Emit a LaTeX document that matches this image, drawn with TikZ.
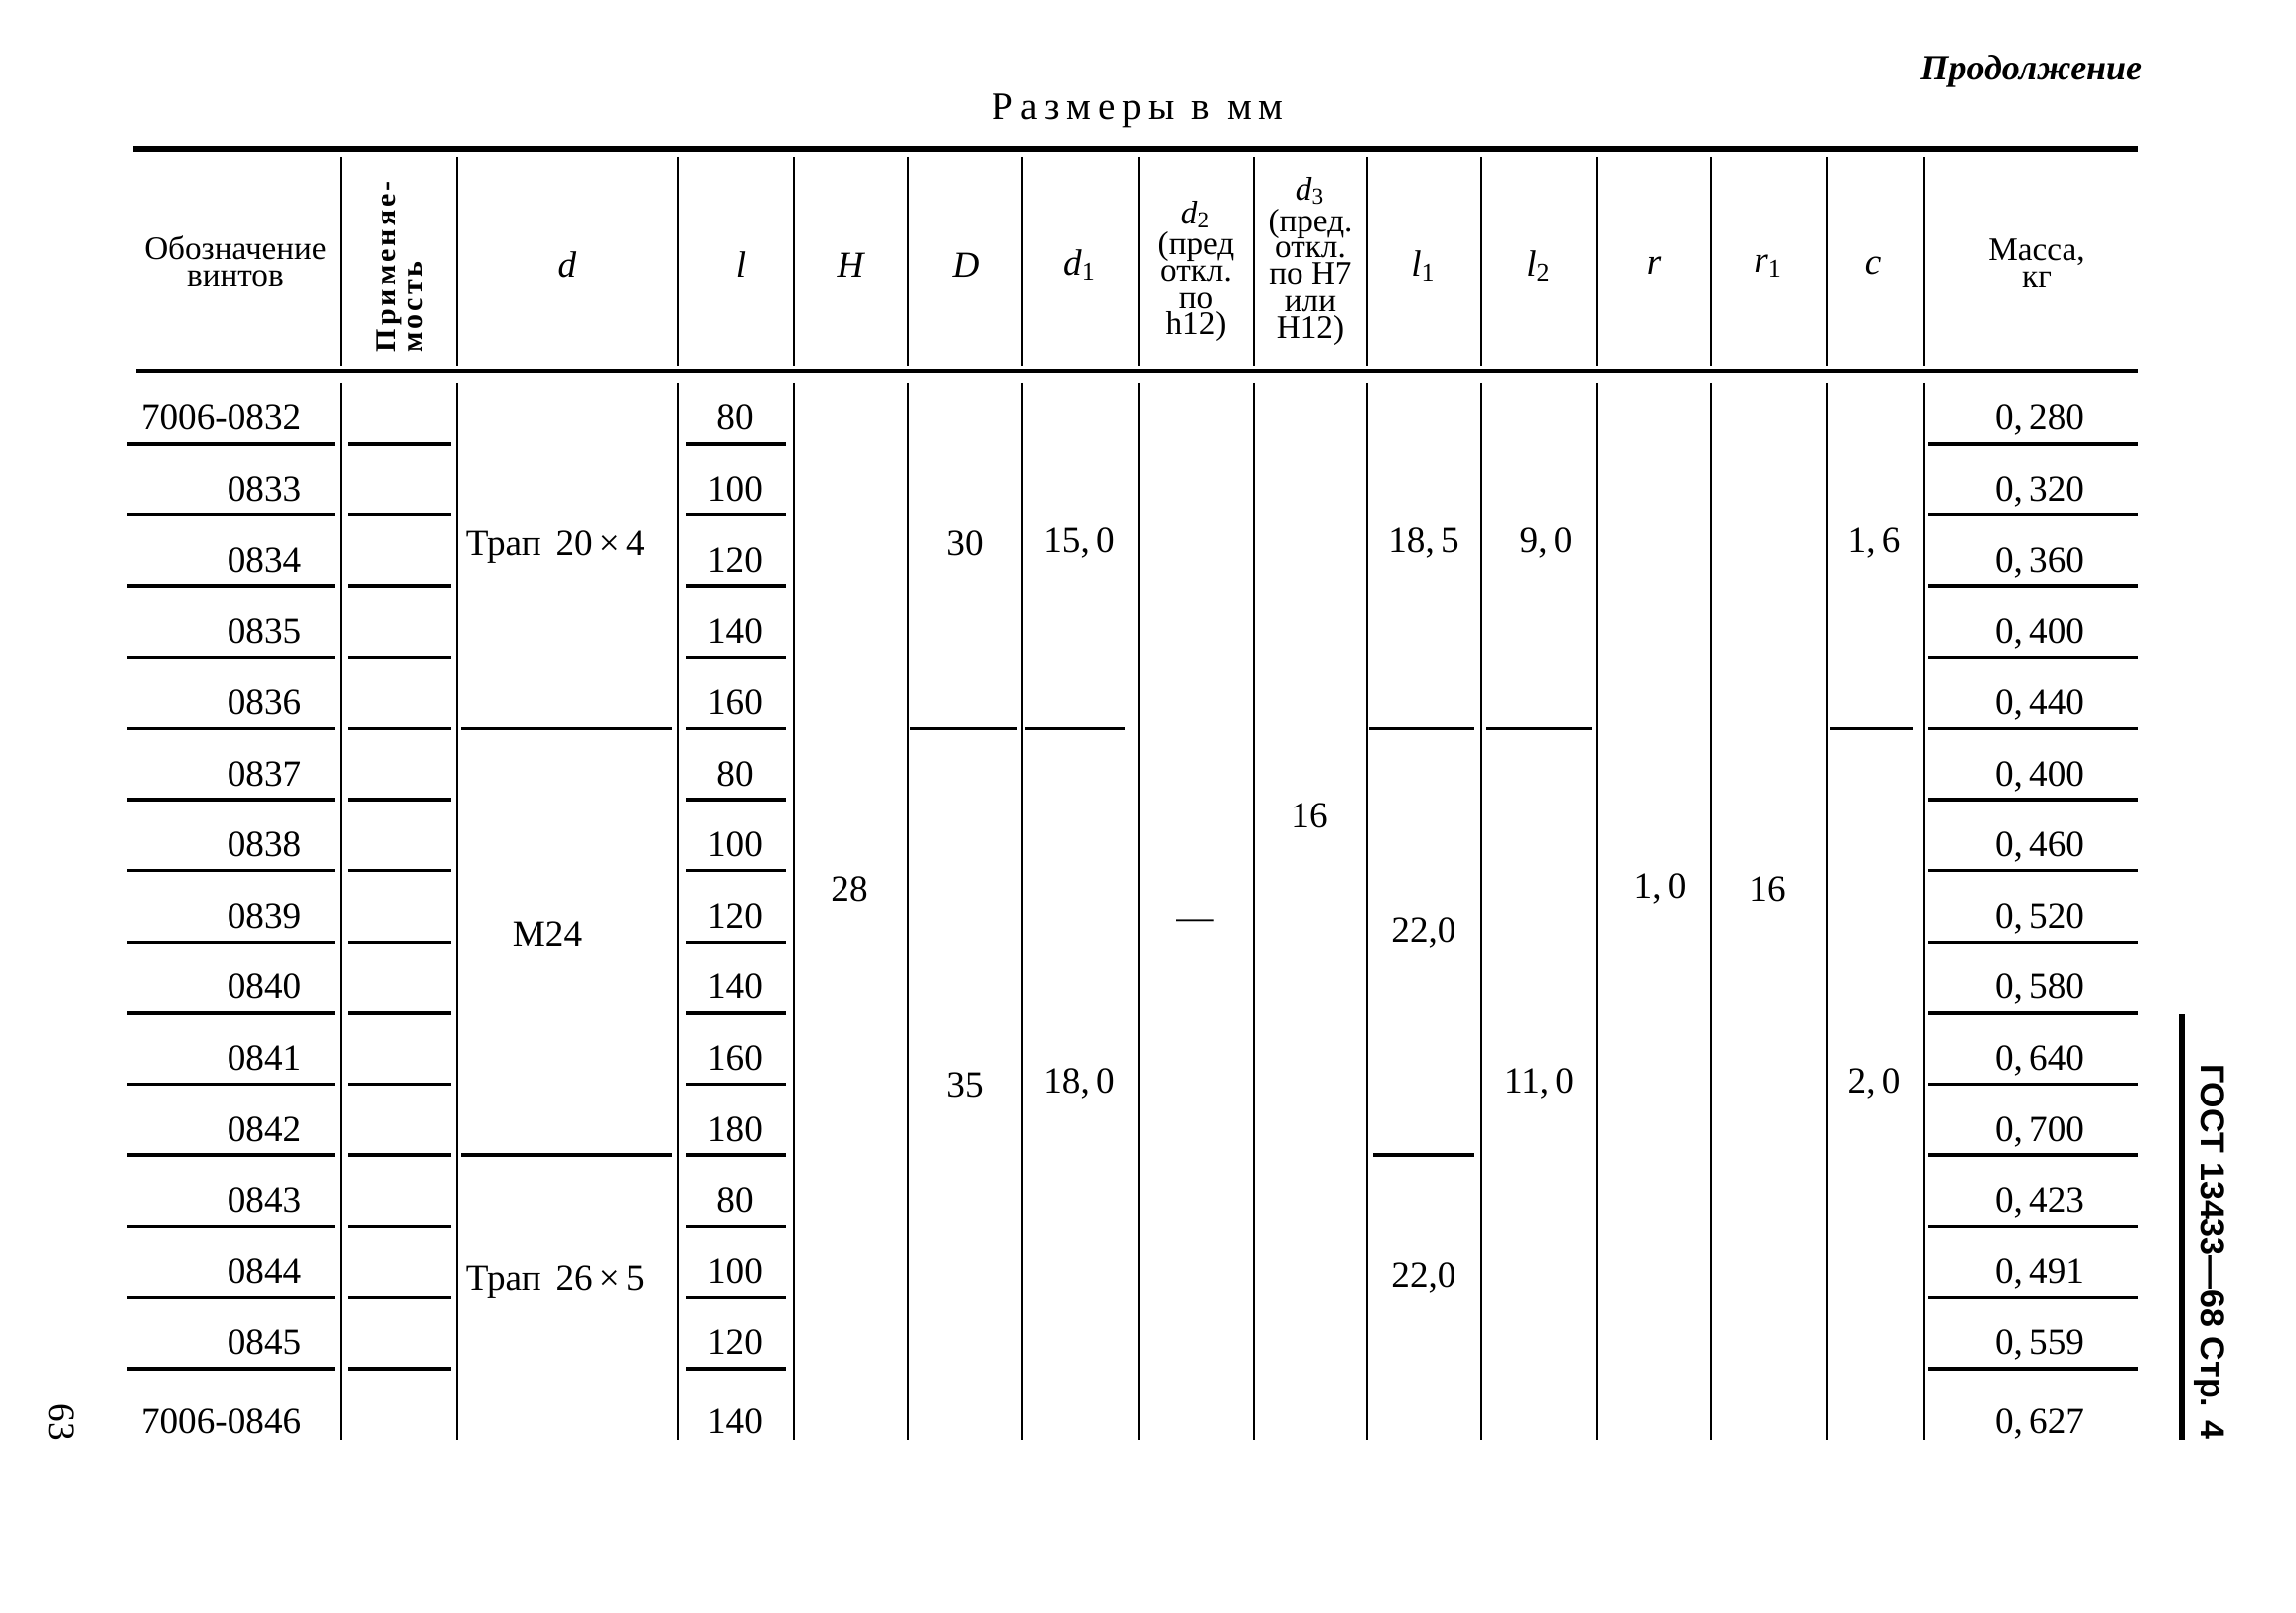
\documentclass[tikz,border=0pt]{standalone}
\usepackage{fontspec}
\setmainfont{Liberation Serif}
\setsansfont{Liberation Sans}

\newlength{\du}
\setlength{\du}{0.25pt}

\tikzset{
  heavyrule/.style={line width=1.6pt},
  headrule/.style={line width=1.1pt},
  colline/.style={line width=0.7pt},
  rowline/.style={line width=0.85pt},
  val/.style={inner sep=0pt, font=\fontsize{9.3}{11}\selectfont},
  hdr/.style={inner sep=0pt, align=center, font=\fontsize{8.3}{6.7}\selectfont},
  sym/.style={inner sep=0pt, font=\fontsize{9.3}{11}\selectfont\itshape},
}

\begin{document}
\begin{tikzpicture}
\pgftransformyscale{-1.000000}
\useasboundingbox (0\du,0\du) rectangle (2311\du,1624\du);
% page captions
\node[anchor=east, inner sep=0pt, font=\fontsize{9}{11}\selectfont\bfseries\itshape] (contd) at (2157\du,72\du) {Продолжение};
\node[inner sep=0pt, font=\fontsize{9.8}{11}\selectfont\addfontfeature{LetterSpace=18}] (units) at (1145\du,112\du) {Размеры в мм};
% rules and column lines
\draw[heavyrule] (134\du,150\du)--(2152\du,150\du);
\draw[headrule] (137\du,374\du)--(2152\du,374\du);
\foreach \x in {343,460,682,799,914,1029,1146,1262,1376,1491,1607,1722,1839,1937}{
  \draw[colline] (\x\du,158\du)--(\x\du,368\du);
  \draw[colline] (\x\du,386\du)--(\x\du,1450\du);
}
% header cells
\node[hdr] (hname) at (237\du,263\du) {Обозначение\\винтов};
\node[anchor=west, rotate=90, inner sep=0pt, font=\fontsize{7.5}{9}\selectfont\bfseries\addfontfeature{LetterSpace=10}] (huse1) at (392\du,355\du) {Применяе-};
\node[anchor=west, rotate=90, inner sep=0pt, font=\fontsize{7.5}{9}\selectfont\bfseries\addfontfeature{LetterSpace=10}] (huse2) at (419\du,355\du) {мость};
\node[sym] (hd) at (571\du,267\du) {d};
\node[sym] (hl) at (746\du,267\du) {l};
\node[sym] (hH) at (856\du,267\du) {H};
\node[sym] (hD) at (972\du,267\du) {D};
\node[sym] (hdi) at (1087\du,267\du) {d\textsubscript{\upshape 1}};
\node[hdr] (hdii) at (1204\du,273\du) {{\itshape d}\textsubscript{2}\\(пред\\откл.\\по\\h12)};
\node[hdr] (hdiii) at (1319\du,263\du) {{\itshape d}\textsubscript{3}\\(пред.\\откл.\\по H7\\или\\H12)};
\node[sym] (hli) at (1433\du,268\du) {l\textsubscript{\upshape 1}};
\node[sym] (hlii) at (1549\du,268\du) {l\textsubscript{\upshape 2}};
\node[sym] (hr) at (1665\du,268\du) {r};
\node[sym] (hri) at (1780\du,268\du) {r\textsubscript{\upshape 1}};
\node[sym] (hc) at (1885\du,268\du) {c};
\node[hdr] (hmass) at (2050\du,265\du) {Масса,\\кг};
% row separators
\foreach \k in {1,...,14}{
  \pgfmathsetmacro\yy{447+71.6*(\k-1)}
  \draw[rowline] (128\du,\yy\du)--(337\du,\yy\du);
  \draw[rowline] (350\du,\yy\du)--(454\du,\yy\du);
  \draw[rowline] (690\du,\yy\du)--(791\du,\yy\du);
  \draw[rowline] (1941\du,\yy\du)--(2152\du,\yy\du);
}
\draw[rowline] (464\du,733.4\du)--(676\du,733.4\du);
\draw[rowline] (916\du,733.4\du)--(1024\du,733.4\du);
\draw[rowline] (1032\du,733.4\du)--(1132\du,733.4\du);
\draw[rowline] (1378\du,733.4\du)--(1484\du,733.4\du);
\draw[rowline] (1496\du,733.4\du)--(1602\du,733.4\du);
\draw[rowline] (1842\du,733.4\du)--(1926\du,733.4\du);
\draw[rowline] (464\du,1163\du)--(676\du,1163\du);
\draw[rowline] (1382\du,1163\du)--(1484\du,1163\du);
% per-row values
\foreach \num [count=\k] in {7006-0832,0833,0834,0835,0836,0837,0838,0839,0840,0841,0842,0843,0844,0845,7006-0846}{
  \pgfmathsetmacro\yy{433+71.6*(\k-1)+(\k==15)*8}
  \node[val, anchor=base east] (sc\k) at (304\du,\yy\du) {\num};
}
\foreach \len [count=\k] in {80,100,120,140,160,80,100,120,140,160,180,80,100,120,140}{
  \pgfmathsetmacro\yy{433+71.6*(\k-1)+(\k==15)*8}
  \node[val, anchor=base] (len\k) at (740\du,\yy\du) {\len};
}
\foreach \m [count=\k] in {{0,\,280},{0,\,320},{0,\,360},{0,\,400},{0,\,440},{0,\,400},{0,\,460},{0,\,520},{0,\,580},{0,\,640},{0,\,700},{0,\,423},{0,\,491},{0,\,559},{0,\,627}}{
  \pgfmathsetmacro\yy{433+71.6*(\k-1)+(\k==15)*8}
  \node[val, anchor=base] (mass\k) at (2053\du,\yy\du) {\m};
}
% merged cells
\node[val, anchor=west] (thra) at (468\du,551\du) {Трап\hspace{0.4em}20\,×\,4};
\node[val] (thrb) at (551\du,940\du) {M24};
\node[val, anchor=west] (thrc) at (468\du,1291\du) {Трап\hspace{0.4em}26\,×\,5};
\node[val] (hv) at (855\du,895\du) {28};
\node[val] (dva) at (971\du,547\du) {30};
\node[val] (dvb) at (971\du,1092\du) {35};
\node[val] (dia) at (1086\du,547\du) {15,\,0};
\node[val] (dib) at (1086\du,1091\du) {18,\,0};
\node[val] (dii) at (1203\du,931\du) {—};
\node[val] (diii) at (1318\du,821\du) {16};
\node[val] (lia) at (1433\du,547\du) {18,\,5};
\node[val] (lib) at (1433\du,939\du) {22,0};
\node[val] (lic) at (1433\du,1287\du) {22,0};
\node[val] (liia) at (1556\du,547\du) {9,\,0};
\node[val] (liib) at (1549\du,1091\du) {11,\,0};
\node[val] (rv) at (1671\du,895\du) {1,\,0};
\node[val] (riv) at (1779\du,895\du) {16};
\node[val] (cva) at (1886\du,547\du) {1,\,6};
\node[val] (cvb) at (1886\du,1091\du) {2,\,0};
% margin marks
\draw[line width=1.3pt] (2196\du,1021\du)--(2196\du,1450\du);
\node[rotate=-90, inner sep=0pt, font=\fontsize{8.5}{10}\selectfont\sffamily\bfseries] (gost) at (2224\du,1260\du) {ГОСТ 13433—68 Стр. 4};
\node[val, rotate=-90] (pageno) at (62\du,1432\du) {63};
\end{tikzpicture}
\end{document}
